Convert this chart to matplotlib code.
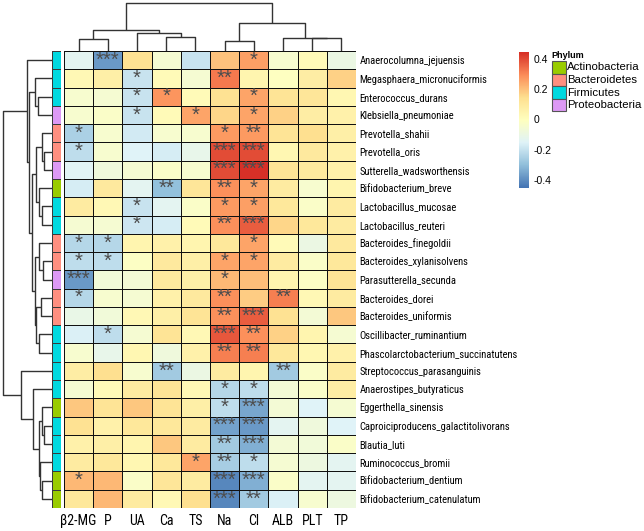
import numpy as np
import matplotlib
matplotlib.use("Agg")
import matplotlib.pyplot as plt
from matplotlib.colors import LinearSegmentedColormap, ListedColormap
from matplotlib.patches import Rectangle

# ---------------- data ----------------
columns = ["β2-MG", "P", "UA", "Ca", "TS", "Na", "Cl", "ALB", "PLT", "TP"]

species = [
    "Anaerocolumna_jejuensis", "Megasphaera_micronuciformis", "Enterococcus_durans",
    "Klebsiella_pneumoniae", "Prevotella_shahii", "Prevotella_oris",
    "Sutterella_wadsworthensis", "Bifidobacterium_breve", "Lactobacillus_mucosae",
    "Lactobacillus_reuteri", "Bacteroides_finegoldii", "Bacteroides_xylanisolvens",
    "Parasutterella_secunda", "Bacteroides_dorei", "Bacteroides_uniformis",
    "Oscillibacter_ruminantium", "Phascolarctobacterium_succinatutens",
    "Streptococcus_parasanguinis", "Anaerostipes_butyraticus", "Eggerthella_sinensis",
    "Caproiciproducens_galactitolivorans", "Blautia_luti", "Ruminococcus_bromii",
    "Bifidobacterium_dentium", "Bifidobacterium_catenulatum",
]

phylum = [
    "Firmicutes", "Firmicutes", "Firmicutes", "Proteobacteria", "Bacteroidetes",
    "Bacteroidetes", "Proteobacteria", "Actinobacteria", "Firmicutes", "Firmicutes",
    "Bacteroidetes", "Bacteroidetes", "Proteobacteria", "Bacteroidetes", "Bacteroidetes",
    "Firmicutes", "Firmicutes", "Firmicutes", "Firmicutes", "Actinobacteria",
    "Firmicutes", "Firmicutes", "Firmicutes", "Actinobacteria", "Actinobacteria",
]

phylum_names = ["Actinobacteria", "Bacteroidetes", "Firmicutes", "Proteobacteria"]
phylum_colors = ["#99CC00", "#FF8F80", "#00D9E0", "#DD99F5"]

# correlation values (rows = species, cols = columns)
corr = [
    [-0.13, -0.38, 0.14, -0.05, -0.20, 0.20, 0.26, -0.04, 0.02, -0.10],
    [0.03, 0.07, -0.20, 0.02, -0.05, 0.33, 0.05, -0.01, 0.08, 0.17],
    [-0.04, -0.05, -0.20, 0.28, 0.02, 0.14, 0.25, 0.13, 0.12, 0.04],
    [-0.04, -0.03, -0.20, 0.02, 0.25, 0.16, 0.25, 0.17, 0.08, 0.06],
    [-0.25, -0.04, -0.18, -0.04, -0.04, 0.27, 0.27, 0.13, 0.15, 0.07],
    [-0.22, -0.04, -0.15, -0.17, -0.12, 0.40, 0.40, 0.04, 0.10, 0.06],
    [-0.14, -0.08, -0.05, -0.03, -0.04, 0.40, 0.44, 0.13, 0.10, 0.06],
    [-0.17, 0.10, -0.13, -0.30, 0.12, 0.29, 0.25, 0.09, -0.04, 0.05],
    [0.09, 0.03, -0.20, -0.13, -0.03, 0.27, 0.26, 0.11, -0.03, 0.09],
    [-0.05, -0.05, -0.19, -0.17, 0.02, 0.29, 0.37, 0.16, 0.11, 0.09],
    [-0.23, -0.23, 0.05, 0.06, 0.05, 0.11, 0.25, 0.02, -0.10, 0.10],
    [-0.22, -0.22, -0.02, 0.10, 0.07, 0.25, 0.25, 0.09, -0.03, 0.11],
    [-0.38, -0.07, -0.06, 0.10, 0.07, 0.22, 0.21, 0.05, -0.02, 0.13],
    [-0.23, -0.04, -0.05, 0.06, 0.10, 0.29, 0.18, 0.32, 0.03, 0.09],
    [-0.11, -0.07, 0.03, 0.07, 0.13, 0.29, 0.37, 0.14, -0.06, 0.19],
    [-0.16, -0.22, -0.05, 0.13, 0.03, 0.38, 0.29, 0.17, 0.05, -0.05],
    [-0.04, -0.12, 0.04, -0.08, 0.06, 0.32, 0.32, 0.11, 0.04, 0.06],
    [0.08, 0.15, -0.04, -0.27, -0.10, 0.09, 0.05, -0.27, -0.03, 0.09],
    [-0.05, 0.02, 0.09, 0.13, 0.03, -0.23, -0.22, -0.06, -0.03, 0.08],
    [0.19, 0.13, 0.19, 0.13, 0.07, -0.22, -0.35, -0.06, -0.15, -0.05],
    [0.14, 0.06, 0.11, 0.11, 0.09, -0.36, -0.38, -0.13, -0.08, -0.15],
    [0.06, 0.07, 0.05, 0.19, 0.09, -0.27, -0.33, -0.06, -0.07, -0.03],
    [0.09, 0.11, 0.04, 0.11, 0.25, -0.26, -0.22, -0.05, -0.09, -0.13],
    [0.22, 0.22, -0.03, 0.12, 0.09, -0.41, -0.33, -0.03, -0.13, -0.13],
    [0.11, 0.22, 0.09, 0.03, 0.15, -0.41, -0.27, -0.16, -0.04, -0.09],
]

# significance level (number of asterisks)
signif = [
    [0, 3, 0, 0, 0, 0, 1, 0, 0, 0],
    [0, 0, 1, 0, 0, 2, 0, 0, 0, 0],
    [0, 0, 1, 1, 0, 0, 1, 0, 0, 0],
    [0, 0, 1, 0, 1, 0, 1, 0, 0, 0],
    [1, 0, 0, 0, 0, 1, 2, 0, 0, 0],
    [1, 0, 0, 0, 0, 3, 3, 0, 0, 0],
    [0, 0, 0, 0, 0, 3, 3, 0, 0, 0],
    [0, 0, 0, 2, 0, 2, 1, 0, 0, 0],
    [0, 0, 1, 0, 0, 1, 1, 0, 0, 0],
    [0, 0, 1, 0, 0, 2, 3, 0, 0, 0],
    [1, 1, 0, 0, 0, 0, 1, 0, 0, 0],
    [1, 1, 0, 0, 0, 1, 1, 0, 0, 0],
    [3, 0, 0, 0, 0, 1, 0, 0, 0, 0],
    [1, 0, 0, 0, 0, 2, 0, 2, 0, 0],
    [0, 0, 0, 0, 0, 2, 3, 0, 0, 0],
    [0, 1, 0, 0, 0, 3, 2, 0, 0, 0],
    [0, 0, 0, 0, 0, 2, 2, 0, 0, 0],
    [0, 0, 0, 2, 0, 0, 0, 2, 0, 0],
    [0, 0, 0, 0, 0, 1, 1, 0, 0, 0],
    [0, 0, 0, 0, 0, 1, 3, 0, 0, 0],
    [0, 0, 0, 0, 0, 3, 3, 0, 0, 0],
    [0, 0, 0, 0, 0, 2, 3, 0, 0, 0],
    [0, 0, 0, 0, 1, 2, 1, 0, 0, 0],
    [1, 0, 0, 0, 0, 3, 3, 0, 0, 0],
    [0, 0, 0, 0, 0, 3, 2, 0, 0, 0],
]

# row dendrogram merges: (left id, right id, height); ids >= n are earlier merges
row_merges = [
    (2, 3, 14.0), (1, 25, 17.0), (5, 6, 7.7), (4, 27, 10.3), (8, 9, 9.7),
    (7, 29, 12.7), (28, 30, 16.0), (11, 12, 8.7), (10, 32, 12.7), (13, 14, 11.3),
    (15, 16, 12.7), (34, 35, 16.0), (33, 36, 17.0), (31, 37, 20.3), (26, 38, 22.7),
    (0, 39, 25.3), (20, 21, 7.7), (19, 41, 10.3), (23, 24, 9.7), (22, 43, 12.0),
    (42, 44, 12.7), (18, 45, 18.7), (17, 46, 31.0), (40, 47, 48.7),
]
# column dendrogram merges
col_merges = [
    (0, 1, 12.0), (3, 4, 14.0), (2, 11, 18.0), (10, 12, 21.0), (5, 6, 10.0),
    (8, 9, 12.7), (7, 15, 13.3), (14, 16, 28.0), (13, 17, 48.0),
]

# ---------------- styling ----------------
narrow = ["Roboto Condensed", "Liberation Sans", "DejaVu Sans"]
regular = ["Liberation Sans", "DejaVu Sans"]

W, H = 644, 531
fig = plt.figure(figsize=(W / 100, H / 100), dpi=100)


def add_ax(x0, y0, x1, y1):
    return fig.add_axes([x0 / W, 1 - y1 / H, (x1 - x0) / W, (y1 - y0) / H])


cmap = LinearSegmentedColormap.from_list(
    "rdylbu_r",
    ["#4575B4", "#91BFDB", "#E0F3F8", "#FFFFBF", "#FEE090", "#FC8D59", "#D73027"],
    N=100,
)
vmin, vmax = -0.455, 0.448

nr, nc = len(species), len(columns)
M = np.array(corr)

# heatmap
hx0, hy0, hx1, hy1 = 64, 51, 356, 508
ax = add_ax(hx0, hy0, hx1, hy1)
ax.pcolormesh(np.arange(nc + 1), np.arange(nr + 1), M, cmap=cmap, vmin=vmin, vmax=vmax,
              edgecolors="#111111", linewidth=0.7)
ax.set_xlim(0, nc)
ax.set_ylim(nr, 0)
for i in range(nr):
    for j in range(nc):
        if signif[i][j]:
            ax.text(j + 0.5, i + 0.5, "*" * signif[i][j], ha="center", va="center",
                    fontsize=14.5, color="#4D4D4D", family=regular)
ax.set_xticks(np.arange(nc) + 0.5)
ax.set_xticklabels(columns, family=narrow, fontsize=10)
ax.set_yticks(np.arange(nr) + 0.5)
ax.set_yticklabels(species, family=narrow, fontsize=7.6)
ax.yaxis.tick_right()
ax.tick_params(length=0, pad=2.5, axis="y")
ax.tick_params(length=0, pad=4, axis="x")
for s in ax.spines.values():
    s.set_visible(False)

# phylum annotation
aax = add_ax(52, hy0, 61, hy1)
codes = np.array([[phylum_names.index(p)] for p in phylum])
aax.pcolormesh([0, 1], np.arange(nr + 1), codes, cmap=ListedColormap(phylum_colors),
               vmin=-0.5, vmax=len(phylum_names) - 0.5, edgecolors="#3a3a3a", linewidth=0.7)
aax.set_xlim(0, 1)
aax.set_ylim(nr, 0)
aax.axis("off")


def draw_dendro(axd, merges, n, orient):
    pos = {i: i + 0.5 for i in range(n)}
    hgt = {i: 0.0 for i in range(n)}
    for k, (a, b, h) in enumerate(merges):
        pa, pb = pos[a], pos[b]
        ha, hb = hgt[a], hgt[b]
        if orient == "left":
            xs, ys = [ha, h, h, hb], [pa, pa, pb, pb]
        else:
            xs, ys = [pa, pa, pb, pb], [ha, h, h, hb]
        axd.plot(xs, ys, color="#333333", lw=1.0, solid_capstyle="butt")
        pos[n + k] = (pa + pb) / 2
        hgt[n + k] = h


# row dendrogram
rax = add_ax(0, hy0, 52, hy1)
draw_dendro(rax, row_merges, nr, "left")
rax.set_xlim(52, 0)
rax.set_ylim(nr, 0)
rax.axis("off")

# column dendrogram
cax = add_ax(hx0, 0, hx1, hy0)
draw_dendro(cax, col_merges, nc, "top")
cax.set_xlim(0, nc)
cax.set_ylim(0, 51)
cax.axis("off")

# colorbar
cbx = add_ax(519, 52, 529, 188)
grad = np.linspace(vmin, vmax, 200).reshape(-1, 1)
cbx.imshow(grad, aspect="auto", cmap=cmap, vmin=vmin, vmax=vmax, origin="lower",
           extent=[0, 1, vmin, vmax])
cbx.set_xticks([])
cbx.yaxis.tick_right()
cbx.set_yticks([-0.4, -0.2, 0, 0.2, 0.4])
cbx.set_yticklabels(["-0.4", "-0.2", "0", "0.2", "0.4"], family=regular, fontsize=7.5)
cbx.tick_params(length=0, pad=3)
for s in cbx.spines.values():
    s.set_visible(False)

# phylum legend
lax = add_ax(545, 45, 644, 120)
lax.set_xlim(545, 644)
lax.set_ylim(120, 45)
lax.axis("off")
lax.text(551.5, 55.5, "Phylum", fontsize=6.5, fontweight="bold", family=regular,
         va="center", ha="left")
for k, (nm, colr) in enumerate(zip(phylum_names, phylum_colors)):
    y0 = 61 + k * 12.6
    lax.add_patch(Rectangle((551.5, y0), 14, 12.6, facecolor=colr, edgecolor="#555555", lw=0.8))
    lax.text(567, y0 + 6.5, nm, fontsize=8.2, family=regular, va="center", ha="left")

fig.savefig("out.png", dpi=100)
